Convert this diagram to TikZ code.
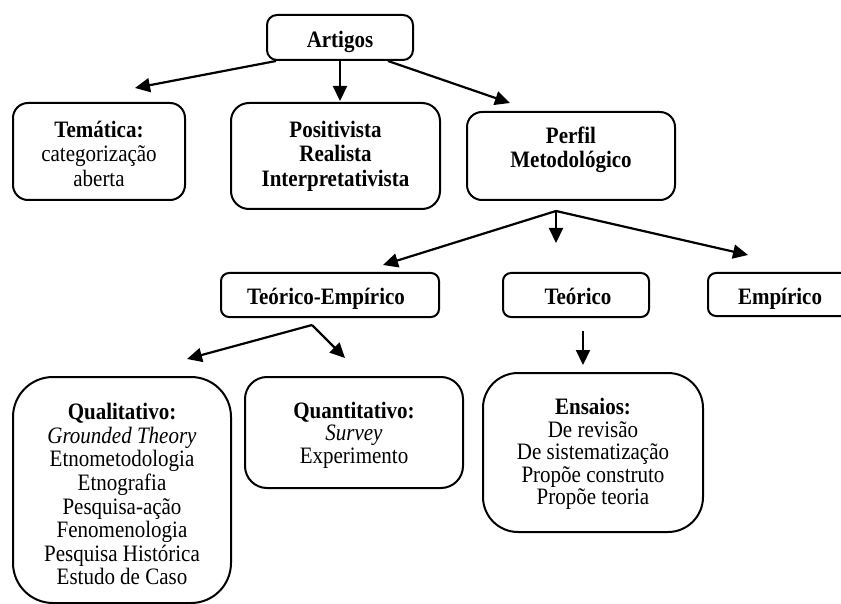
\documentclass[tikz,border=0pt]{standalone}
\usepackage{fontspec}
\setmainfont{Liberation Serif}
\usepackage{graphicx}
\usetikzlibrary{arrows.meta}
\newcommand\txtstack[2][21.5]{\scalebox{1}[1.12]{\fontsize{21}{#1}\selectfont\begin{tabular}{@{}c@{}}#2\end{tabular}}}
\begin{document}
\begin{tikzpicture}[x=1pt,y=-1pt,
  box/.style={draw, line width=2pt, rounded corners=#1, inner sep=0pt},
  box/.default=10pt,
  txt/.style={inner sep=0pt, anchor=center},
  arr/.style={line width=2.2pt, -{Triangle[length=15pt,width=14pt]}}]
\path[use as bounding box, clip] (0,0) rectangle (841,604);

% boxes
\node[box=10pt, minimum width=146pt, minimum height=45pt] (artigos) at (340,37.5) {};
\node[box=15pt, minimum width=172pt, minimum height=97pt] (tematica) at (99,151.5) {};
\node[box=18pt, minimum width=209pt, minimum height=106pt] (posit) at (335.5,156) {};
\node[box=15pt, minimum width=208pt, minimum height=88pt] (perfil) at (571,156) {};
\node[box=8pt, minimum width=218pt, minimum height=44pt] (teoemp) at (330,295) {};
\node[box=8pt, minimum width=146pt, minimum height=44pt] (teorico) at (576,295) {};
\node[box=8pt, minimum width=172pt, minimum height=43pt] (empirico) at (794,294.5) {};
\node[box=40pt, minimum width=218pt, minimum height=226pt] (qualit) at (122,490) {};
\node[box=22pt, minimum width=218pt, minimum height=111pt] (quant) at (354,432.5) {};
\node[box=35pt, minimum width=220pt, minimum height=159pt] (ensaios) at (593,452.5) {};

% texts
\node[txt] (artigos-t) at (340,43) {\txtstack{\textbf{Artigos}}};
\node[txt] (tematica-t) at (99,157) {\txtstack[22]{\textbf{Temática:}\\categorização\\aberta}};
\node[txt] (posit-t) at (335.5,157) {\txtstack[22]{\textbf{Positivista}\\\textbf{Realista}\\\textbf{Interpretativista}}};
\node[txt] (perfil-t) at (571,150.5) {\txtstack[22]{\textbf{Perfil}\\\textbf{Metodológico}}};
\node[txt] (teoemp-t) at (326,300) {\txtstack{\textbf{Teórico-Empírico}}};
\node[txt] (teorico-t) at (578,300) {\txtstack{\textbf{Teórico}}};
\node[txt] (empirico-t) at (780,300) {\txtstack{\textbf{Empírico}}};
\node[txt] (qualit-t) at (122,497.5) {\txtstack[21.1]{\textbf{Qualitativo:}\\\textit{Grounded Theory}\\Etnometodologia\\Etnografia\\Pesquisa-ação\\Fenomenologia\\Pesquisa Histórica\\Estudo de Caso}};
\node[txt] (quant-t) at (354,436) {\txtstack[19.5]{\textbf{Quantitativo:}\\\textit{Survey}\\Experimento}};
\node[txt] (ensaios-t) at (593,455) {\txtstack[20.1]{\textbf{Ensaios:}\\De revisão\\De sistematização\\Propõe construto\\Propõe teoria}};

% free ends and forks
\coordinate (a-tem) at (135,88);
\coordinate (a-pos) at (340,101);
\coordinate (a-per) at (510,103);
\coordinate (fork1) at ([xshift=-15pt,yshift=-10pt]perfil.south);
\coordinate (a-te) at (383,265);
\coordinate (a-teo) at (556,243);
\coordinate (a-emp) at (748,255);
\coordinate (fork2) at ([xshift=-18pt,yshift=-7pt]teoemp.south);
\coordinate (a-qual) at (187,359);
\coordinate (a-quant) at (345,358);
\coordinate (teo-start) at ([xshift=7pt,yshift=-13pt]teorico.south);
\coordinate (a-ens) at (583,365);

% connectors
\draw[arr] ([xshift=10pt]artigos.south west) -- (a-tem);
\draw[arr] (artigos.south) -- (a-pos);
\draw[arr] ([xshift=-26pt]artigos.south east) -- (a-per);
\draw[arr] (fork1) -- (a-te);
\draw[arr] (fork1) -- (a-teo);
\draw[arr] (fork1) -- (a-emp);
\draw[arr] (fork2) -- (a-qual);
\draw[arr] (fork2) -- (a-quant);
\draw[arr] (teo-start) -- (a-ens);
\end{tikzpicture}
\end{document}
